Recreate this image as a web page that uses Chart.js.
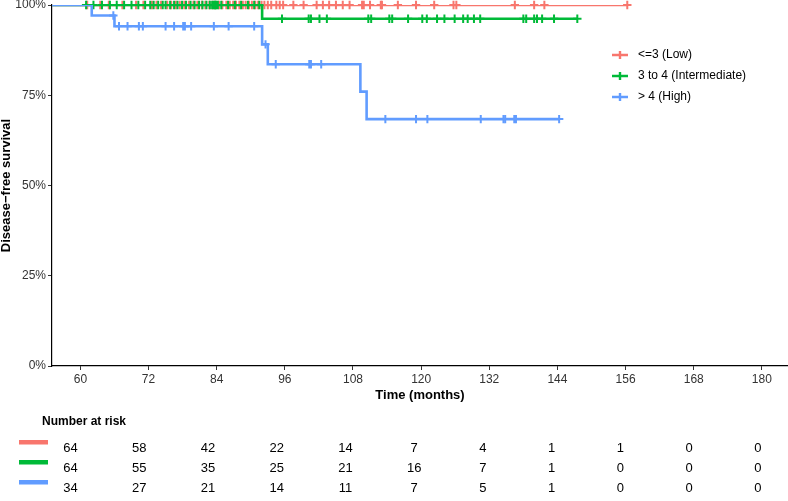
<!DOCTYPE html>
<html>
<head>
<meta charset="utf-8">
<script src="https://cdn.jsdelivr.net/npm/chart.js@4.4.1/dist/chart.umd.min.js"></script>
<style>
  html, body { margin: 0; padding: 0; background: #fff; overflow: hidden; }
  canvas { display: block; }
</style>
</head>
<body>
<canvas id="km" width="788" height="501"></canvas>
<script>
// groups
var groupLabels = ['<=3 (Low)', '3 to 4 (Intermediate)', '> 4 (High)'];
var groupColors = ['#F8766D', '#00BA38', '#619CFF'];

// events (time in months, survival after the drop) and censoring times
var lowEventTimes = [];
var lowEventSurv = [];
var lowCensor = [61.2, 63.5, 65.0, 67.4, 69.8, 71.1,
    72.6, 73.4, 74.2, 75.3, 76.0, 76.8, 77.5, 78.3, 79.1, 79.9, 80.6, 81.4, 82.0, 82.7, 83.3, 83.8,
    84.4, 85.0, 85.7, 86.3, 86.9, 87.4, 88.0, 88.6, 89.1, 89.7, 90.2, 90.8, 91.3, 91.9, 92.4, 93.0, 93.6, 94.5, 95.1, 95.7,
    97.5, 99.3, 101.6, 102.7, 103.8, 105.0, 106.2, 107.4,
    109.6, 109.9, 111.0, 112.9, 113.1, 115.9, 119.1,
    122.3, 125.7, 126.2,
    136.5, 139.9, 141.7,
    156.3];

var intEventTimes = [92.0];
var intEventSurv = [0.962];
var intCensor = [61.0, 62.3, 63.8, 65.2, 66.4, 67.7, 69.0, 70.2, 71.4,
    72.3, 72.9, 73.7, 74.5, 75.0, 75.8, 76.5, 77.1, 77.9, 78.6, 79.4, 80.1, 80.9, 81.5, 82.2, 82.8, 83.2, 83.5, 83.7, 83.9,
    84.2, 84.8, 86.0, 87.2, 88.3, 89.5, 90.6, 91.5, 95.5,
    100.2, 100.6, 102.1, 103.4,
    110.7, 111.2, 114.4, 114.9, 117.7,
    120.2, 121.0, 122.8, 124.1, 125.9, 127.4, 128.2, 129.3, 130.4,
    138.0, 138.5, 139.9, 140.4, 141.3, 143.4,
    147.5];

var highEventTimes = [62.0, 66.0, 92.0, 93.0, 109.3, 110.4];
var highEventSurv = [0.971, 0.941, 0.891, 0.836, 0.760, 0.684];
var highCensor = [65.8, 66.8, 68.3, 70.3, 71.0,
    75.0, 76.5, 78.1, 78.4, 79.5, 83.5,
    86.1, 90.6, 92.6, 94.4,
    100.3, 100.6, 102.4,
    113.7, 119.1,
    121.1, 130.5,
    134.5, 134.8, 136.4, 136.7,
    144.3];

// number at risk table
var riskTimes = [60, 72, 84, 96, 108, 120, 132, 144, 156, 168, 180];
var riskLow = [64, 58, 42, 22, 14, 7, 4, 1, 1, 0, 0];
var riskInt = [64, 55, 35, 25, 21, 16, 7, 1, 0, 0, 0];
var riskHigh = [34, 27, 21, 14, 11, 7, 5, 1, 0, 0, 0];

// axes
var xTicks = [60, 72, 84, 96, 108, 120, 132, 144, 156, 168, 180];
var yTicks = [0, 0.25, 0.5, 0.75, 1];
var xMin = 55, xMax = 184.6;

function survAt(times, surv, t) {
    var s = 1;
    for (var i = 0; i < times.length; i++) {
        if (times[i] <= t) s = surv[i];
    }
    return s;
}

function stepPoints(times, surv, censor) {
    var pts = [{x: 0, y: 1}];
    for (var i = 0; i < times.length; i++) pts.push({x: times[i], y: surv[i]});
    var end = Math.max.apply(null, censor.concat(times));
    pts.push({x: end, y: survAt(times, surv, end)});
    return pts;
}

function censorPoints(times, surv, censor) {
    return censor.map(function(t) { return {x: t, y: survAt(times, surv, t)}; });
}

var groups = [
    [lowEventTimes, lowEventSurv, lowCensor],
    [intEventTimes, intEventSurv, intCensor],
    [highEventTimes, highEventSurv, highCensor]
];

var datasets = [];
groups.forEach(function(g, i) {
    datasets.push({
        label: groupLabels[i],
        data: stepPoints(g[0], g[1], g[2]),
        stepped: true,
        borderColor: groupColors[i],
        borderWidth: 2.6,
        pointRadius: 0,
        fill: false,
        order: 6 - 2 * i
    });
    datasets.push({
        label: groupLabels[i] + ' censored',
        data: censorPoints(g[0], g[1], g[2]),
        showLine: false,
        pointStyle: 'cross',
        pointRadius: 4.2,
        pointBorderWidth: 2,
        pointBorderColor: groupColors[i],
        borderColor: groupColors[i],
        clip: false,
        order: 5 - 2 * i
    });
});

var extras = {
    id: 'extras',
    afterDraw: function(chart) {
        var ctx = chart.ctx;
        var area = chart.chartArea;
        var xs = chart.scales.x;
        ctx.save();

        // axis titles
        ctx.fillStyle = '#000';
        ctx.font = 'bold 13px "Liberation Sans", Arial, sans-serif';
        ctx.textAlign = 'center';
        ctx.textBaseline = 'middle';
        ctx.fillText('Time (months)', (area.left + area.right) / 2, 395);
        ctx.save();
        ctx.translate(6, (area.top + area.bottom) / 2);
        ctx.rotate(-Math.PI / 2);
        ctx.fillText('Disease\u2212free survival', 0, 0);
        ctx.restore();

        // legend
        ctx.font = '12px "Liberation Sans", Arial, sans-serif';
        ctx.textAlign = 'left';
        var ly = [55, 76, 97];
        groupLabels.forEach(function(lab, i) {
            ctx.strokeStyle = groupColors[i];
            ctx.lineWidth = 2.4;
            ctx.beginPath();
            ctx.moveTo(612, ly[i]); ctx.lineTo(628, ly[i]);
            ctx.moveTo(620, ly[i] - 4); ctx.lineTo(620, ly[i] + 4);
            ctx.stroke();
            ctx.fillStyle = '#000';
            ctx.fillText(lab, 638, ly[i]);
        });

        // number at risk
        ctx.font = 'bold 12px "Liberation Sans", Arial, sans-serif';
        ctx.fillText('Number at risk', 42, 422);
        var rows = [riskLow, riskInt, riskHigh];
        var ry = [448.5, 468.5, 488.5];
        ctx.font = '13px "Liberation Sans", Arial, sans-serif';
        ctx.textAlign = 'center';
        rows.forEach(function(row, i) {
            ctx.fillStyle = groupColors[i];
            ctx.fillRect(19, ry[i] - 8.5, 29, 4.5);
            ctx.fillStyle = '#000';
            row.forEach(function(n, j) {
                var px = xs.getPixelForValue(riskTimes[j]) * 1.0088 - 10.7;
                ctx.fillText(String(n), px, ry[i]);
            });
        });
        ctx.restore();
    }
};

var tickFont = {family: '"Liberation Sans", Arial, sans-serif', size: 12};

var config = {
    type: 'line',
    data: {datasets: datasets},
    options: {
        responsive: false,
        animation: false,
        devicePixelRatio: 1,
        layout: {autoPadding: false, padding: {top: 5, right: 0, left: 0, bottom: 0}},
        plugins: {
            legend: {display: false},
            tooltip: {enabled: false}
        },
        scales: {
            x: {
                type: 'linear',
                min: xMin,
                max: xMax,
                afterBuildTicks: function(scale) {
                    scale.ticks = xTicks.map(function(v) { return {value: v}; });
                },
                afterFit: function(scale) {
                    scale.height = 135;
                    scale.paddingLeft = 0;
                    scale.paddingRight = 0;
                },
                ticks: {font: tickFont, color: '#333', padding: 2, maxRotation: 0, autoSkip: false},
                grid: {drawOnChartArea: false, drawTicks: true, tickLength: 4, color: '#333', lineWidth: 1},
                border: {display: true, color: '#000', width: 1.2}
            },
            y: {
                type: 'linear',
                min: 0,
                max: 1,
                afterBuildTicks: function(scale) {
                    scale.ticks = yTicks.map(function(v) { return {value: v}; });
                },
                afterFit: function(scale) {
                    scale.width = 52;
                    scale.paddingTop = 0;
                    scale.paddingBottom = 0;
                },
                ticks: {
                    font: tickFont, color: '#333', padding: 2,
                    callback: function(v) { return Math.round(v * 100) + '%'; }
                },
                grid: {drawOnChartArea: false, drawTicks: true, tickLength: 4, color: '#333', lineWidth: 1},
                border: {display: true, color: '#000', width: 1.2}
            }
        }
    },
    plugins: [extras]
};

window.onload = function() {
    var ctx = document.getElementById('km').getContext('2d');
    window.kmChart = new Chart(ctx, config);
};
</script>
</body>
</html>
